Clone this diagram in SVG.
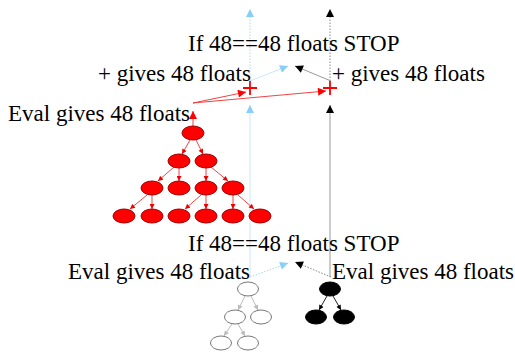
<svg xmlns="http://www.w3.org/2000/svg" width="515" height="358" viewBox="0 0 515 358">
<defs>
<style>
text{font-family:"Liberation Serif","Times New Roman",serif;font-size:23px;fill:#000}
.red{fill:#ff0000;stroke:#a00000;stroke-width:1}
.blk{fill:#000;stroke:#000;stroke-width:1}
.wht{fill:#fff;stroke:#777;stroke-width:1}
.re{stroke:#ee4444;stroke-width:1;fill:none}
.ge{stroke:#bbbbbb;stroke-width:1;fill:none}
.be{stroke:#222;stroke-width:1;fill:none}
.blue{stroke:#c8e6fa;stroke-width:1;fill:none}
.bluedot{stroke:#b0d8f0;stroke-width:1;fill:none;stroke-dasharray:1.5 1.5}
.gray{stroke:#999;stroke-width:1;fill:none}
.graydot{stroke:#888;stroke-width:1;fill:none;stroke-dasharray:1.5 1.5}
</style>
<marker id="mB" viewBox="0 0 10 10" refX="10" refY="5" markerWidth="12" markerHeight="8" markerUnits="userSpaceOnUse" orient="auto"><path d="M0,0L10,5L0,10z" fill="#87cefa"/></marker>
<marker id="mK" viewBox="0 0 10 10" refX="10" refY="5" markerWidth="12" markerHeight="8" markerUnits="userSpaceOnUse" orient="auto"><path d="M0,0L10,5L0,10z" fill="#000"/></marker>
<marker id="mR" viewBox="0 0 10 10" refX="10" refY="5" markerWidth="12" markerHeight="8" markerUnits="userSpaceOnUse" orient="auto"><path d="M0,0L10,5L0,10z" fill="#ff0000"/></marker>
<marker id="mr" viewBox="0 0 10 10" refX="10" refY="5" markerWidth="6" markerHeight="5" markerUnits="userSpaceOnUse" orient="auto"><path d="M0,0L10,5L0,10z" fill="#ee0000"/></marker>
<marker id="mg" viewBox="0 0 10 10" refX="10" refY="5" markerWidth="6" markerHeight="5" markerUnits="userSpaceOnUse" orient="auto"><path d="M0,0L10,5L0,10z" fill="#bbbbbb"/></marker>
<marker id="mk" viewBox="0 0 10 10" refX="10" refY="5" markerWidth="6" markerHeight="5" markerUnits="userSpaceOnUse" orient="auto"><path d="M0,0L10,5L0,10z" fill="#000"/></marker>
</defs>
<rect width="515" height="358" fill="#fff"/>

<g id="connectors">
<line class="blue" x1="250" y1="277" x2="250" y2="105" marker-end="url(#mB)"/>
<line class="gray" x1="330" y1="277" x2="330" y2="105" marker-end="url(#mK)"/>
<line class="bluedot" x1="250" y1="81" x2="250" y2="9" marker-end="url(#mB)"/>
<line class="graydot" x1="330" y1="81" x2="330" y2="9" marker-end="url(#mK)"/>
<line class="blue" x1="250" y1="81" x2="288" y2="66" marker-end="url(#mB)"/>
<line class="gray" x1="331" y1="81" x2="295" y2="66" marker-end="url(#mK)"/>
<line class="bluedot" x1="250" y1="277" x2="288" y2="263" marker-end="url(#mB)"/>
<line class="graydot" x1="331" y1="277" x2="295" y2="262" marker-end="url(#mK)"/>
<line class="re" x1="193" y1="126" x2="193" y2="111" marker-end="url(#mR)"/>
<line class="re" x1="193" y1="103" x2="246" y2="92" marker-end="url(#mR)"/>
<line class="re" x1="193" y1="103" x2="326" y2="91" marker-end="url(#mR)"/>
<line class="re" x1="190" y1="140" x2="182" y2="154" marker-end="url(#mr)"/>
<line class="re" x1="196" y1="140" x2="203" y2="154" marker-end="url(#mr)"/>
<line class="re" x1="174" y1="167" x2="158" y2="181" marker-end="url(#mr)"/>
<line class="re" x1="179" y1="168" x2="179" y2="181" marker-end="url(#mr)"/>
<line class="re" x1="206" y1="168" x2="206" y2="181" marker-end="url(#mr)"/>
<line class="re" x1="211" y1="167" x2="228" y2="181" marker-end="url(#mr)"/>
<line class="re" x1="147" y1="195" x2="130" y2="209" marker-end="url(#mr)"/>
<line class="re" x1="152" y1="195" x2="152" y2="209" marker-end="url(#mr)"/>
<line class="re" x1="201" y1="195" x2="185" y2="209" marker-end="url(#mr)"/>
<line class="re" x1="206" y1="195" x2="206" y2="209" marker-end="url(#mr)"/>
<line class="re" x1="233" y1="195" x2="233" y2="209" marker-end="url(#mr)"/>
<line class="re" x1="238" y1="195" x2="254" y2="209" marker-end="url(#mr)"/>
<line class="ge" x1="245" y1="296" x2="238" y2="310" marker-end="url(#mg)"/>
<line class="ge" x1="251" y1="296" x2="258" y2="310" marker-end="url(#mg)"/>
<line class="ge" x1="232" y1="324" x2="224" y2="336" marker-end="url(#mg)"/>
<line class="ge" x1="238" y1="324" x2="245" y2="336" marker-end="url(#mg)"/>
<line class="be" x1="327" y1="296" x2="319" y2="310" marker-end="url(#mk)"/>
<line class="be" x1="333" y1="296" x2="341" y2="310" marker-end="url(#mk)"/>
</g>

<g id="plus-left"><path d="M243,88H257M250,81V95" stroke="#ff0000" stroke-width="1.8" fill="none"/></g>
<g id="plus-right"><path d="M323,88H337M330,81V95" stroke="#ff0000" stroke-width="1.8" fill="none"/></g>

<g id="red-tree">
<ellipse class="red" cx="193" cy="133" rx="11" ry="7"/>
<ellipse class="red" cx="179" cy="161" rx="11" ry="7"/>
<ellipse class="red" cx="206" cy="161" rx="11" ry="7"/>
<ellipse class="red" cx="152" cy="188" rx="11" ry="7"/>
<ellipse class="red" cx="179" cy="188" rx="11" ry="7"/>
<ellipse class="red" cx="206" cy="188" rx="11" ry="7"/>
<ellipse class="red" cx="233" cy="188" rx="11" ry="7"/>
<ellipse class="red" cx="124" cy="216" rx="11" ry="7"/>
<ellipse class="red" cx="152" cy="216" rx="11" ry="7"/>
<ellipse class="red" cx="179" cy="216" rx="11" ry="7"/>
<ellipse class="red" cx="206" cy="216" rx="11" ry="7"/>
<ellipse class="red" cx="233" cy="216" rx="11" ry="7"/>
<ellipse class="red" cx="260" cy="216" rx="11" ry="7"/>
</g>

<g id="white-tree">
<ellipse class="wht" cx="248" cy="289" rx="10.5" ry="7"/>
<ellipse class="wht" cx="235" cy="317" rx="10.5" ry="7"/>
<ellipse class="wht" cx="261" cy="317" rx="10.5" ry="7"/>
<ellipse class="wht" cx="221" cy="343" rx="10.5" ry="7"/>
<ellipse class="wht" cx="248" cy="343" rx="10.5" ry="7"/>
</g>

<g id="black-tree">
<ellipse class="blk" cx="330" cy="289" rx="10.5" ry="7"/>
<ellipse class="blk" cx="316" cy="317" rx="10.5" ry="7"/>
<ellipse class="blk" cx="344" cy="317" rx="10.5" ry="7"/>
</g>

<g id="labels">
<text x="188" y="51">If 48==48 floats STOP</text>
<text x="98" y="81">+ gives 48 floats</text>
<text x="332" y="81">+ gives 48 floats</text>
<text x="8" y="121">Eval gives 48 floats</text>
<text x="188" y="251">If 48==48 floats STOP</text>
<text x="68" y="279">Eval gives 48 floats</text>
<text x="332" y="279">Eval gives 48 floats</text>
</g>
</svg>
